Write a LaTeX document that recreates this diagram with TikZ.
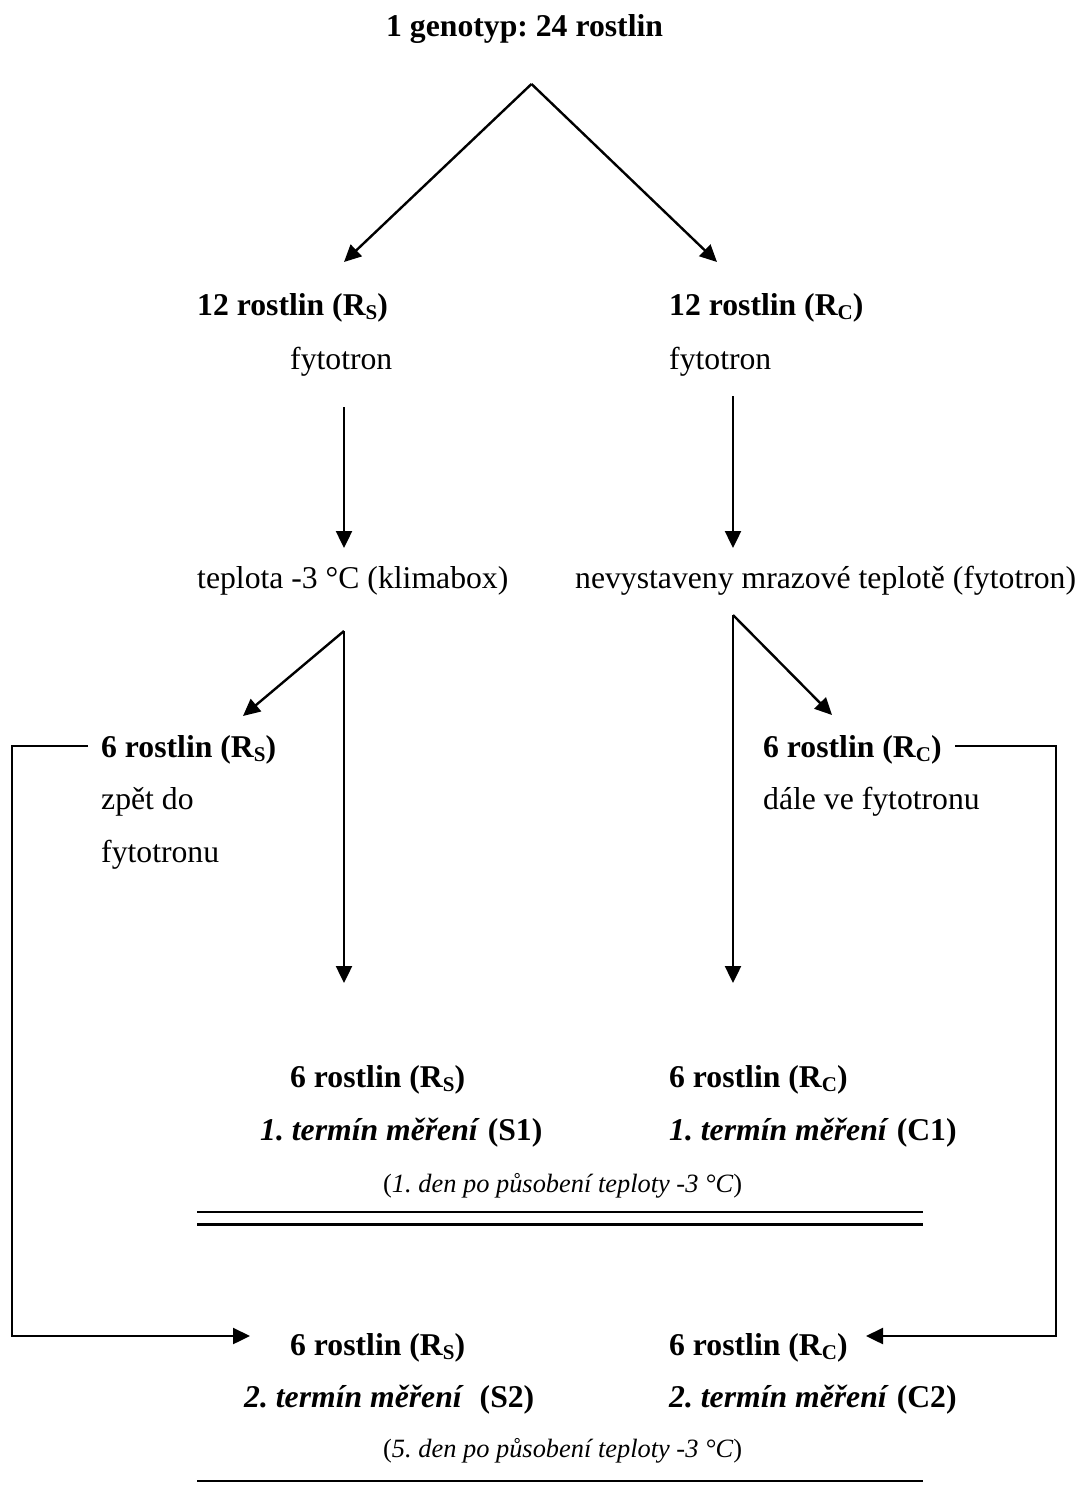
\documentclass[tikz,border=0pt]{standalone}
\usepackage{fontspec}
\setmainfont{Liberation Serif}
\usetikzlibrary{arrows.meta}
\frenchspacing
\newcommand\lowsub[1]{\raisebox{-4.5pt}{\fontsize{21}{21}\selectfont #1}}
\begin{document}
\frenchspacing
\begin{tikzpicture}[x=1pt,y=-1pt,
  txt/.style={anchor=base west,inner sep=0pt,font=\fontsize{31.7}{38}\selectfont},
  btxt/.style={anchor=base west,inner sep=0pt,font=\fontsize{31.7}{38}\selectfont\bfseries},
  stxt/.style={anchor=base west,inner sep=0pt,font=\fontsize{26.4}{32}\selectfont},
  ln/.style={line width=2.4pt},
  arr/.style={ln,-{Triangle[length=17pt,width=16pt]}}]
\useasboundingbox (0,0) rectangle (1082,1492);

% texts
\node[btxt] (title) at (386,36) {1 genotyp: 24 rostlin};
\node[btxt] (s12) at (197,315) {12 rostlin (R\lowsub{S})};
\node[btxt] (c12) at (669,315) {12 rostlin (R\lowsub{C})};
\node[txt] (sfy) at (290,369) {fytotron};
\node[txt] (cfy) at (669,369) {fytotron};
\node[txt] (stemp) at (197,588) {teplota -3 °C (klimabox)};
\node[txt] (ctemp) at (575,588) {nevystaveny mrazové teplotě (fytotron)};
\node[btxt] (s6a) at (101,757) {6 rostlin (R\lowsub{S})};
\node[txt] (sback1) at (101,809) {zpět do};
\node[txt] (sback2) at (101,862) {fytotronu};
\node[btxt] (c6a) at (763,757) {6 rostlin (R\lowsub{C})};
\node[txt] (cstay) at (763,809) {dále ve fytotronu};
\node[btxt] (s6b) at (290,1087) {6 rostlin (R\lowsub{S})};
\node[btxt] (c6b) at (669,1087) {6 rostlin (R\lowsub{C})};
\node[btxt] (s1) at (260,1140) {\textit{1. termín měření} (S1)};
\node[btxt] (c1) at (669,1140) {\textit{1. termín měření} (C1)};
\node[stxt] (d1) at (383,1192) {(\textit{1. den po působení teploty -3 °C})};
\node[btxt] (s6c) at (290,1355) {6 rostlin (R\lowsub{S})};
\node[btxt] (c6c) at (669,1355) {6 rostlin (R\lowsub{C})};
\node[btxt] (s2) at (244,1407) {\textit{2. termín měření}\ \ (S2)};
\node[btxt] (c2) at (669,1407) {\textit{2. termín měření} (C2)};
\node[stxt] (d2) at (383,1457) {(\textit{5. den po působení teploty -3 °C})};

% connector points
\coordinate (apex) at (531.5,84);
\coordinate (tipL) at (344,262);
\coordinate (tipR) at (717,262);
\coordinate (vLtop) at (344,407);
\coordinate (vLbot) at (344,548);
\coordinate (vRtop) at (733,396);
\coordinate (vRbot) at (733,548);
\coordinate (brL) at (344,631);
\coordinate (tipLL) at (243,716);
\coordinate (botL) at (344,983);
\coordinate (brR) at (733,615);
\coordinate (tipRR) at (832,715);
\coordinate (botR) at (733,983);
\coordinate (loopLa) at (88,746);
\coordinate (loopLb) at (12,746);
\coordinate (loopLc) at (12,1336);
\coordinate (loopLd) at (250,1336);
\coordinate (loopRa) at (955,746);
\coordinate (loopRb) at (1056,746);
\coordinate (loopRc) at (1056,1336);
\coordinate (loopRd) at (866,1336);
\coordinate (dl1a) at (197,1212);
\coordinate (dl1b) at (923,1212);
\coordinate (dl2a) at (197,1224.5);
\coordinate (dl2b) at (923,1224.5);
\coordinate (bla) at (197,1481);
\coordinate (blb) at (923,1481);

% connectors
\draw[arr] (apex) -- (tipL);
\draw[arr] (apex) -- (tipR);
\draw[arr] (vLtop) -- (vLbot);
\draw[arr] (vRtop) -- (vRbot);
\draw[arr] (brL) -- (tipLL);
\draw[arr] (brL) -- (botL);
\draw[arr] (brR) -- (tipRR);
\draw[arr] (brR) -- (botR);
\draw[arr] (loopLa) -- (loopLb) -- (loopLc) -- (loopLd);
\draw[arr] (loopRa) -- (loopRb) -- (loopRc) -- (loopRd);
\draw[ln] (dl1a) -- (dl1b);
\draw[ln] (dl2a) -- (dl2b);
\draw[ln] (bla) -- (blb);
\end{tikzpicture}
\end{document}
